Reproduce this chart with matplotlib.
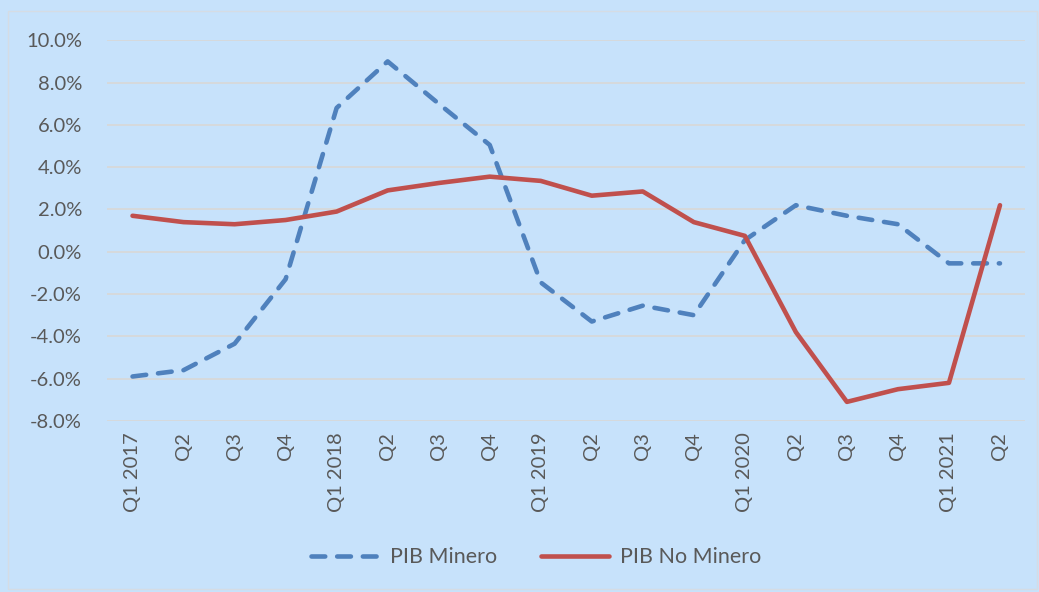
import matplotlib
matplotlib.use("Agg")
import matplotlib.pyplot as plt
from matplotlib.patches import Rectangle
from matplotlib.ticker import FuncFormatter

# quarterly labels and growth rates (%)
quarters = ["Q1 2017", "Q2", "Q3", "Q4",
            "Q1 2018", "Q2", "Q3", "Q4",
            "Q1 2019", "Q2", "Q3", "Q4",
            "Q1 2020", "Q2", "Q3", "Q4",
            "Q1 2021", "Q2"]
pib_minero = [-5.9, -5.6, -4.35, -1.3, 6.8, 9.0, 7.0, 5.05, -1.45,
              -3.3, -2.55, -3.0, 0.55, 2.2, 1.7, 1.3, -0.55, -0.55]
pib_no_minero = [1.7, 1.4, 1.3, 1.5, 1.9, 2.9, 3.25, 3.55, 3.35,
                 2.65, 2.85, 1.4, 0.75, -3.8, -7.1, -6.5, -6.2, 2.2]

BG = "#C7E2FB"
TXT = "#595959"
plt.rcParams["font.family"] = ["Lato", "DejaVu Sans"]

fig = plt.figure(figsize=(10.39, 5.92), dpi=100, facecolor=BG)
fig.patches.append(Rectangle((0.008, 0.005), 0.99, 0.977, transform=fig.transFigure,
                             fill=False, edgecolor="#D5DCE4", linewidth=1))
ax = fig.add_axes([0.103, 0.289, 0.884, 0.643])
ax.set_facecolor(BG)

x = list(range(len(quarters)))
ax.plot(x, pib_minero, color="#4F81BD", lw=3.3, dashes=(3, 2.6),
        dash_capstyle="round", solid_joinstyle="round", label="PIB Minero", zorder=3)
ax.plot(x, pib_no_minero, color="#C0504D", lw=3.3, solid_capstyle="round",
        solid_joinstyle="round", label="PIB No Minero", zorder=3)

ax.set_xlim(-0.5, len(quarters) - 0.5)
ax.set_ylim(-8, 10)
ax.set_yticks(range(-8, 11, 2))
ax.yaxis.set_major_formatter(FuncFormatter(lambda v, p: f"{v:.1f}%"))
ax.set_xticks(x)
ax.set_xticklabels(quarters, rotation=90)
ax.grid(axis="y", color="#D6D9DC", lw=1.4, zorder=0)
for s in ax.spines.values():
    s.set_visible(False)
ax.tick_params(length=0, colors=TXT, labelsize=14.5)
ax.tick_params(axis="y", pad=18)
ax.tick_params(axis="x", pad=8)

fig.legend(loc="center", bbox_to_anchor=(0.516, 0.059), ncol=2, frameon=False,
           fontsize=15.5, labelcolor=TXT, handlelength=3.2, columnspacing=2.0,
           handletextpad=0.5)

fig.savefig("out.png", dpi=100, facecolor=BG)
